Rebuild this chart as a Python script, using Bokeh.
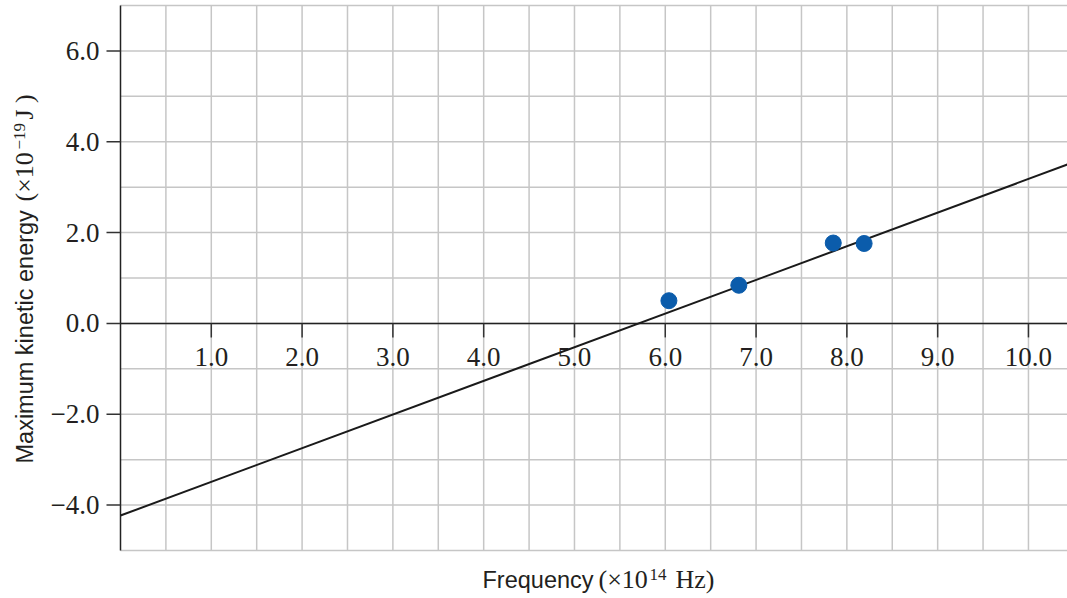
import math
from bokeh.plotting import figure
from bokeh.models import Range1d
from bokeh.core.properties import value
from bokeh.embed import file_html
from bokeh.resources import INLINE

# ---- data ----
freq = [6.04, 6.81, 7.85, 8.19]          # x 10^14 Hz
energy = [0.50, 0.84, 1.77, 1.76]        # x 10^-19 J
fit_x = [0.0, 10.43]
fit_y = [-4.23, 3.50]
x_ticks = [1.0, 2.0, 3.0, 4.0, 5.0, 6.0, 7.0, 8.0, 9.0, 10.0]
x_tick_labels = ["1.0", "2.0", "3.0", "4.0", "5.0", "6.0", "7.0", "8.0", "9.0", "10.0"]
y_ticks = [-4.0, -2.0, 0.0, 2.0, 4.0, 6.0]
y_tick_labels = ["\u22124.0", "\u22122.0", "0.0", "2.0", "4.0", "6.0"]
x_grid = [0.5 * i for i in range(1, 21)]
y_grid = [float(v) for v in range(-5, 8)]
x_min, x_max = 0.0, 10.43
y_min, y_max = -5.0, 7.0

# ---- layout: the frame covers the whole canvas; plot area drawn by hand ----
W, H = 1067, 598
PLOT_LEFT, PLOT_TOP, PLOT_BOTTOM = 120, 5, 550
sx = (W - PLOT_LEFT) / (x_max - x_min)          # px per x unit
sy = (PLOT_BOTTOM - PLOT_TOP) / (y_max - y_min)  # px per y unit

def px2x(px):
    return x_min + (px - PLOT_LEFT) / sx

def py2y(py):
    return y_max - (py - PLOT_TOP) / sy

SERIF = "Liberation Serif"
SANS = "Liberation Sans"
TXT = "#231f20"
GRID = "#c6c6c6"
AX = "#222222"

p = figure(width=W, height=H, output_backend="svg", toolbar_location=None,
           x_range=Range1d(px2x(0), px2x(W)), y_range=Range1d(py2y(H), py2y(0)),
           min_border=0)
p.axis.visible = False
p.grid.visible = False
p.outline_line_color = None
p.background_fill_color = "white"
p.border_fill_color = "white"

# grid
p.segment(x0=x_grid, y0=[y_min] * len(x_grid), x1=x_grid, y1=[y_max] * len(x_grid),
          line_color=GRID, line_width=1.5)
p.segment(x0=[x_min] * len(y_grid), y0=y_grid, x1=[px2x(W)] * len(y_grid), y1=y_grid,
          line_color=GRID, line_width=1.5)

# y axis
p.segment(x0=[x_min], y0=[y_min], x1=[x_min], y1=[y_max], line_color=AX, line_width=1.5)
p.segment(x0=[x_min] * len(y_ticks), y0=y_ticks, x1=[px2x(PLOT_LEFT - 14)] * len(y_ticks),
          y1=y_ticks, line_color="#333333", line_width=1.5)
p.text(x=[x_min] * len(y_ticks), y=y_ticks, text=y_tick_labels, x_offset=-21,
       text_align="right", text_baseline="middle",
       text_font=value(SERIF), text_font_size="27px", text_color=TXT)

# x axis through y = 0
zero_py = PLOT_TOP + y_max * sy
p.segment(x0=[x_min], y0=[0.0], x1=[px2x(W)], y1=[0.0], line_color=AX, line_width=1.5)
p.segment(x0=x_ticks, y0=[0.0] * len(x_ticks), x1=x_ticks,
          y1=[py2y(zero_py + 14)] * len(x_ticks),
          line_color="#333333", line_width=1.5)
p.text(x=x_ticks, y=[0.0] * len(x_ticks), text=x_tick_labels, y_offset=34,
       text_align="center", text_baseline="middle",
       text_font=value(SERIF), text_font_size="27px", text_color=TXT)

# fit line and points
p.line(fit_x, fit_y, line_color="#1a1a1a", line_width=2)
p.scatter(freq, energy, size=16, fill_color="#0b5cab", line_color="#0b5cab")

def put(px, py, txt, font, size, angle=0.0):
    p.text(x=[px2x(px)], y=[py2y(py)], text=[txt], angle=angle,
           text_align="left", text_baseline="middle",
           text_font=value(font), text_font_size=size, text_color=TXT)

# x-axis label (mixed fonts)
put(482, 579, "Frequency", SANS, "23.5px")
put(598, 579, "(\u00d710", SERIF, "26px")
put(649, 574, "14", SERIF, "17px")
put(675, 579, "Hz)", SERIF, "26px")

# y-axis label (rotated, mixed fonts)
a = math.pi / 2
put(24, 463, "Maximum kinetic energy", SANS, "23.5px", a)
put(24, 201, "(\u00d710", SERIF, "26px", a)
put(19, 149, "\u221219", SERIF, "17px", a)
put(24, 119, "J )", SERIF, "26px", a)

open("out.html", "w").write(file_html(p, INLINE))
